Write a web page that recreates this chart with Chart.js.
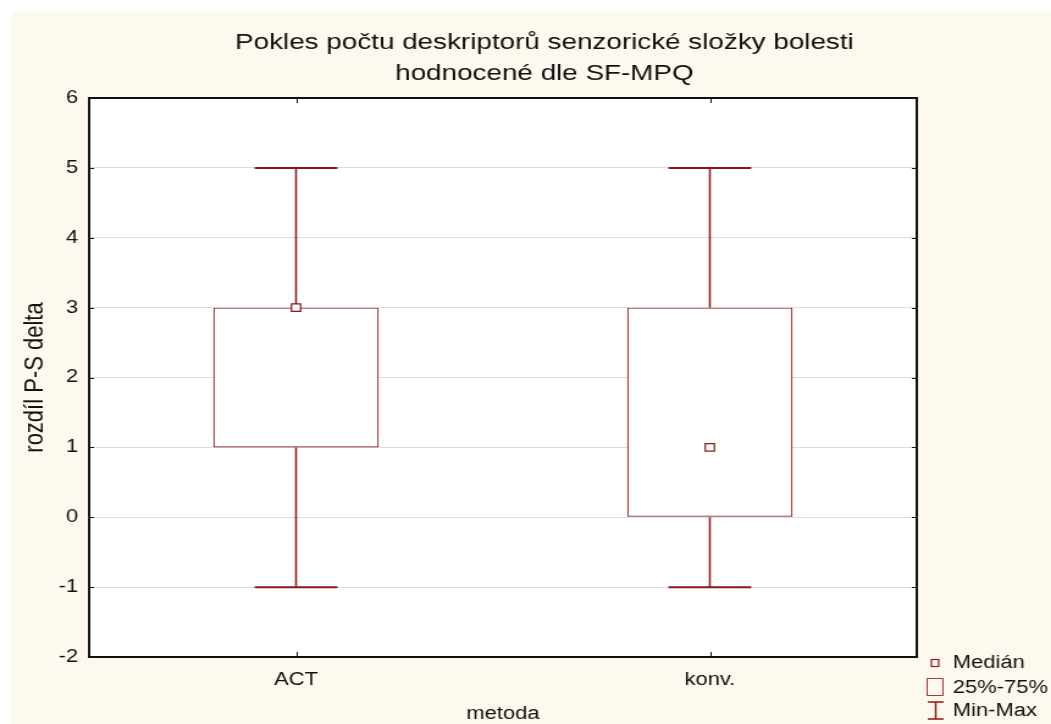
<!DOCTYPE html>
<html>
<head>
<meta charset="utf-8">
<script src="https://cdn.jsdelivr.net/npm/chart.js@4"></script>
<style>
html, body { margin: 0; padding: 0; background: #ffffff; overflow: hidden; }
#wrap { position: absolute; left: 0; top: 0; width: 861px; height: 724px; transform: scaleX(1.2207); transform-origin: 0 0; }
canvas { display: block; }
</style>
</head>
<body>
<div id="wrap"><canvas id="chart"></canvas></div>
<script>
// Box plot summary per method
const categories = ['ACT', 'konv.'];
const minima = [-1, -1];
const lowerQuartiles = [1, 0];
const medians = [3, 1];
const upperQuartiles = [3, 3];
const maxima = [5, 5];
const yTickValues = [-2, -1, 0, 1, 2, 3, 4, 5, 6];

const titleLines = ['Pokles počtu deskriptorů senzorické složky bolesti', 'hodnocené dle SF-MPQ'];
const xTitle = 'metoda';
const yTitle = 'rozdíl P-S delta';
const legendLabels = ['Medián', '25%-75%', 'Min-Max'];

const FONT = '"Liberation Sans", Arial, Helvetica, sans-serif';
const DARK_RED = '#8e1515';
const BOX_RED = '#8f1a1a';
const CREAM = '#fef9ef';

const decorPlugin = {
  id: 'decor',
  beforeDraw(chart) {
    const ctx = chart.ctx;
    ctx.save();
    ctx.fillStyle = '#ffffff';
    ctx.fillRect(0, 0, chart.width, chart.height);
    ctx.fillStyle = CREAM;
    ctx.fillRect(9, 12, chart.width - 9, chart.height - 12);
    const a = chart.chartArea;
    ctx.fillStyle = '#ffffff';
    ctx.fillRect(a.left, a.top, a.right - a.left, a.bottom - a.top);
    ctx.restore();
  },
  beforeDatasetsDraw(chart) {
    // whiskers: line from quartile to extreme plus a cap
    const ctx = chart.ctx;
    const x = chart.scales.x, y = chart.scales.y;
    const boxMeta = chart.getDatasetMeta(0);
    ctx.save();
    ctx.strokeStyle = DARK_RED;
    categories.forEach((c, i) => {
      const cx = x.getPixelForValue(i);
      const half = boxMeta.data[i].width / 4;
      const pairs = [[upperQuartiles[i], maxima[i]], [lowerQuartiles[i], minima[i]]];
      pairs.forEach(([from, to]) => {
        ctx.lineWidth = 1.5;
        ctx.beginPath();
        ctx.moveTo(cx, y.getPixelForValue(from));
        ctx.lineTo(cx, y.getPixelForValue(to));
        ctx.stroke();
        ctx.lineWidth = 2;
        ctx.beginPath();
        ctx.moveTo(cx - half, y.getPixelForValue(to));
        ctx.lineTo(cx + half, y.getPixelForValue(to));
        ctx.stroke();
      });
    });
    ctx.restore();
  },
  afterDraw(chart) {
    const ctx = chart.ctx;
    const a = chart.chartArea;
    const x = chart.scales.x, y = chart.scales.y;
    ctx.save();
    // frame
    ctx.strokeStyle = '#111111';
    ctx.lineWidth = 2;
    ctx.strokeRect(a.left, a.top, a.right - a.left, a.bottom - a.top);
    // inner tick marks
    ctx.lineWidth = 1;
    ctx.beginPath();
    yTickValues.forEach(v => {
      const py = Math.round(y.getPixelForValue(v)) + 0.5;
      ctx.moveTo(a.left, py); ctx.lineTo(a.left + 4, py);
      ctx.moveTo(a.right, py); ctx.lineTo(a.right - 4, py);
    });
    categories.forEach((c, i) => {
      const px = Math.round(x.getPixelForValue(i)) + 0.5;
      ctx.moveTo(px, a.bottom); ctx.lineTo(px, a.bottom - 5);
      ctx.moveTo(px, a.top); ctx.lineTo(px, a.top + 5);
    });
    ctx.stroke();

    // title
    ctx.fillStyle = '#111111';
    ctx.font = '22.8px ' + FONT;
    ctx.textAlign = 'center';
    ctx.textBaseline = 'alphabetic';
    ctx.fillText(titleLines[0], 446, 49);
    ctx.fillText(titleLines[1], 446, 80);

    // axis titles
    ctx.font = '18px ' + FONT;
    ctx.fillText(xTitle, (a.left + a.right) / 2, 719);
    ctx.save();
    ctx.font = '22px ' + FONT;
    ctx.translate(29, (a.top + a.bottom) / 2);
    ctx.rotate(-Math.PI / 2);
    ctx.textBaseline = 'middle';
    ctx.fillText(yTitle, 0, 0);
    ctx.restore();

    // legend
    const lx = a.right + 10;
    ctx.textAlign = 'left';
    ctx.textBaseline = 'middle';
    ctx.font = '18px ' + FONT;
    // median marker
    ctx.fillStyle = '#ffffff';
    ctx.strokeStyle = DARK_RED;
    ctx.lineWidth = 1.2;
    ctx.fillRect(lx + 2, 659.5, 6, 7);
    ctx.strokeRect(lx + 2, 659.5, 6, 7);
    // quartile box
    ctx.strokeStyle = '#a83a3a';
    ctx.lineWidth = 1;
    ctx.strokeRect(lx - 1.5, 678.5, 13, 17);
    // min-max
    ctx.strokeStyle = DARK_RED;
    ctx.lineWidth = 1.5;
    ctx.beginPath();
    ctx.moveTo(lx - 1, 702); ctx.lineTo(lx + 12, 702);
    ctx.moveTo(lx + 5.5, 702); ctx.lineTo(lx + 5.5, 719);
    ctx.moveTo(lx - 1, 719); ctx.lineTo(lx + 12, 719);
    ctx.stroke();
    ctx.fillStyle = '#111111';
    ctx.fillText(legendLabels[0], lx + 19.5, 663);
    ctx.fillText(legendLabels[1], lx + 19.5, 688);
    ctx.fillText(legendLabels[2], lx + 19.5, 711);
    ctx.restore();
  }
};

new Chart(document.getElementById('chart'), {
  type: 'bar',
  data: {
    labels: categories,
    datasets: [
      {
        type: 'bar',
        label: legendLabels[1],
        data: categories.map((c, i) => [lowerQuartiles[i], upperQuartiles[i]]),
        backgroundColor: '#ffffff',
        borderColor: BOX_RED,
        borderWidth: 1.2,
        borderSkipped: false,
        barPercentage: 0.4,
        categoryPercentage: 1,
        order: 1
      },
      {
        type: 'line',
        label: legendLabels[0],
        data: medians,
        showLine: false,
        pointStyle: 'rect',
        pointRadius: 5.3,
        pointBackgroundColor: '#ffffff',
        pointBorderColor: DARK_RED,
        pointBorderWidth: 1.2,
        order: 0
      }
    ]
  },
  options: {
    responsive: true,
    maintainAspectRatio: false,
    animation: false,
    devicePixelRatio: 1,
    layout: { padding: { top: 98, right: 110, left: 0, bottom: 0 } },
    plugins: {
      legend: { display: false },
      title: { display: false },
      tooltip: { enabled: false }
    },
    scales: {
      x: {
        grid: { display: false, drawTicks: false },
        border: { display: false },
        ticks: { color: '#111111', font: { family: FONT, size: 18 }, padding: 12 },
        afterFit(s) { s.height = 67; }
      },
      y: {
        min: -2,
        max: 6,
        afterBuildTicks(s) { s.ticks = yTickValues.map(v => ({ value: v })); },
        grid: { color: '#dddddd', lineWidth: 1, drawTicks: false },
        border: { display: false },
        ticks: { color: '#111111', font: { family: FONT, size: 18 }, padding: 9 },
        afterFit(s) { s.width = 73; }
      }
    }
  },
  plugins: [decorPlugin]
});
</script>
</body>
</html>
